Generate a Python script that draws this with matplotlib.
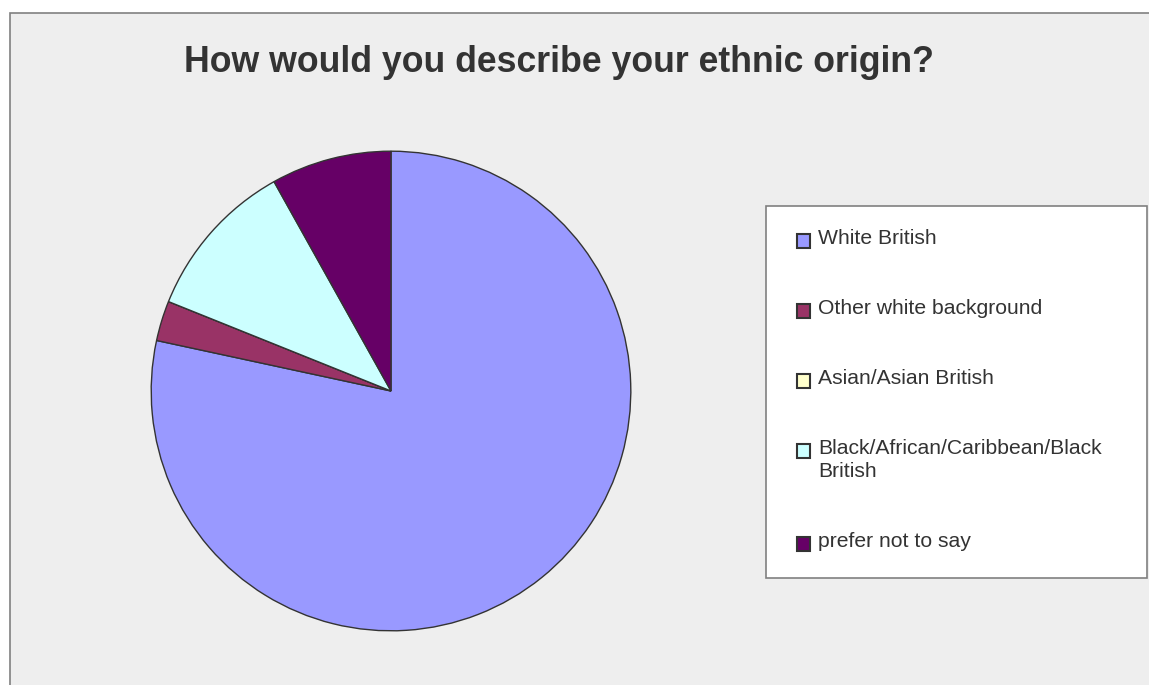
import matplotlib
matplotlib.use('Agg')
import matplotlib.pyplot as plt
from matplotlib.patches import Rectangle

# ---------------------------------------------------------
# Data
# ---------------------------------------------------------
categories = ['White British', 'Other white background', 'Asian/Asian British',
              'Black/African/Caribbean/Black\nBritish', 'prefer not to say']
counts = [29, 1, 0, 4, 3]
colors = ['#9999FF', '#993366', '#FFFFCC', '#CCFFFF', '#660066']
title = 'How would you describe your ethnic origin?'

W, H = 1149, 685
TEXT = '#333333'
EDGE = '#333333'
plt.rcParams['font.family'] = ['Liberation Sans', 'DejaVu Sans']


def fx(x):
    return x / W


def fy(y):
    return 1 - y / H


fig = plt.figure(figsize=(W / 100, H / 100), dpi=100)
fig.patch.set_facecolor('white')

# chart area (runs off the right and bottom edge)
fig.patches.append(Rectangle((fx(10), fy(H + 10)), fx(W + 20), (H + 10 - 13) / H,
                             transform=fig.transFigure, facecolor='#EEEEEE',
                             edgecolor='#808080', linewidth=1.2, zorder=-5))

fig.text(fx(559), fy(72), title, ha='center', va='baseline',
         fontsize=25.7, fontweight='bold', color=TEXT)

# pie
cx, cy, r = 391, 391, 241
ax = fig.add_axes([fx(cx - r), fy(cy + r), 2 * r / W, 2 * r / H])
ax.patch.set_alpha(0)
ax.pie(counts, colors=colors, startangle=90, counterclock=False, radius=1,
       wedgeprops=dict(edgecolor=EDGE, linewidth=1.0))
ax.set_xlim(-1.005, 1.005)
ax.set_ylim(-1.005, 1.005)
ax.set_aspect('equal')
ax.axis('off')

# legend box
fig.patches.append(Rectangle((fx(766), fy(578)), (1147 - 766) / W, (578 - 206) / H,
                             transform=fig.transFigure, facecolor='white',
                             edgecolor='#808080', linewidth=1.2, zorder=1))

baseline = 244
for cat, col in zip(categories, colors):
    fig.patches.append(Rectangle((fx(797), fy(baseline + 4)), 13 / W, 14 / H,
                                 transform=fig.transFigure, facecolor=col,
                                 edgecolor=EDGE, linewidth=1.5, zorder=2))
    for line in cat.split('\n'):
        fig.text(fx(818), fy(baseline), line, ha='left', va='baseline',
                 fontsize=15.2, color=TEXT, zorder=3)
        baseline += 23
    baseline += 70 - 23

fig.savefig('out.png', dpi=100)
